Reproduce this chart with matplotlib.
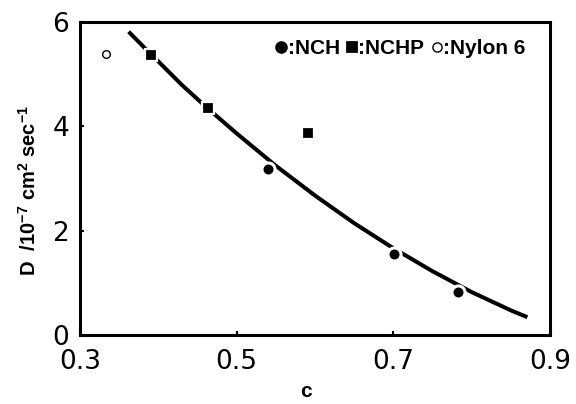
import matplotlib.pyplot as plt

plt.rcParams['mathtext.default'] = 'regular'

# data
nch_c = [0.540, 0.701, 0.783]
nch_d = [3.18, 1.56, 0.82]
nchp_c = [0.391, 0.463, 0.591]
nchp_d = [5.37, 4.34, 3.87]
nylon_c = [0.333]
nylon_d = [5.38]

# fitted curve, points
fit_c = [0.362, 0.391, 0.40, 0.43, 0.463, 0.50, 0.55, 0.60, 0.65, 0.70, 0.75, 0.80, 0.85, 0.871]
fit_d = [5.81, 5.37, 5.24, 4.79, 4.34, 3.86, 3.24, 2.67, 2.14, 1.66, 1.22, 0.82, 0.47, 0.34]

bold_font = ['Liberation Sans', 'DejaVu Sans']

fig = plt.figure(figsize=(5.76, 4.04), dpi=100)
ax = fig.add_axes([0.139, 0.171, 0.816, 0.775])

ax.plot(fit_c, fit_d, color='black', lw=2.9, solid_capstyle='butt', zorder=2)
h1, = ax.plot(nch_c, nch_d, 'o', color='black', ms=9.4, mec='white', mew=2.2, zorder=3)
h2, = ax.plot(nchp_c, nchp_d, 's', color='black', ms=8.0, mec='white', mew=1.6, zorder=3)
h3, = ax.plot(nylon_c, nylon_d, 'o', mfc='white', mec='black', ms=5.5, mew=1.0, zorder=3)

ax.set_xlim(0.3, 0.9)
ax.set_ylim(0, 6)
ax.set_xticks([0.3, 0.5, 0.7, 0.9])
ax.set_xticklabels(['0.3', '0.5', '0.7', '0.9'])
ax.set_yticks([0, 2, 4, 6])
ax.tick_params(direction='in', length=3, width=1.5, labelsize=19)
ax.tick_params(axis='x', pad=10)
ax.tick_params(axis='y', pad=8)
for s in ax.spines.values():
    s.set_linewidth(2.2)

ax.set_xlabel('c', fontsize=15, fontweight='bold', family=bold_font)
ax.xaxis.set_label_coords(0.481, -0.15)
ax.set_ylabel(r'D  /10$^{-7}$ cm$^{2}$ sec$^{-1}$', fontsize=14.5, fontweight='bold',
              family=bold_font)
ax.yaxis.set_label_coords(-0.085, 0.46)

leg = ax.legend([h1, h2, h3], [':NCH', ':NCHP', ':Nylon 6'], ncol=3, loc='center right',
                frameon=False, handlelength=0.6, handletextpad=0.0, columnspacing=0.3,
                markerscale=1.2, bbox_to_anchor=(0.97, 0.914), borderpad=0,
                prop={'family': bold_font, 'weight': 'bold', 'size': 15})

fig.savefig('out.png', dpi=100)
